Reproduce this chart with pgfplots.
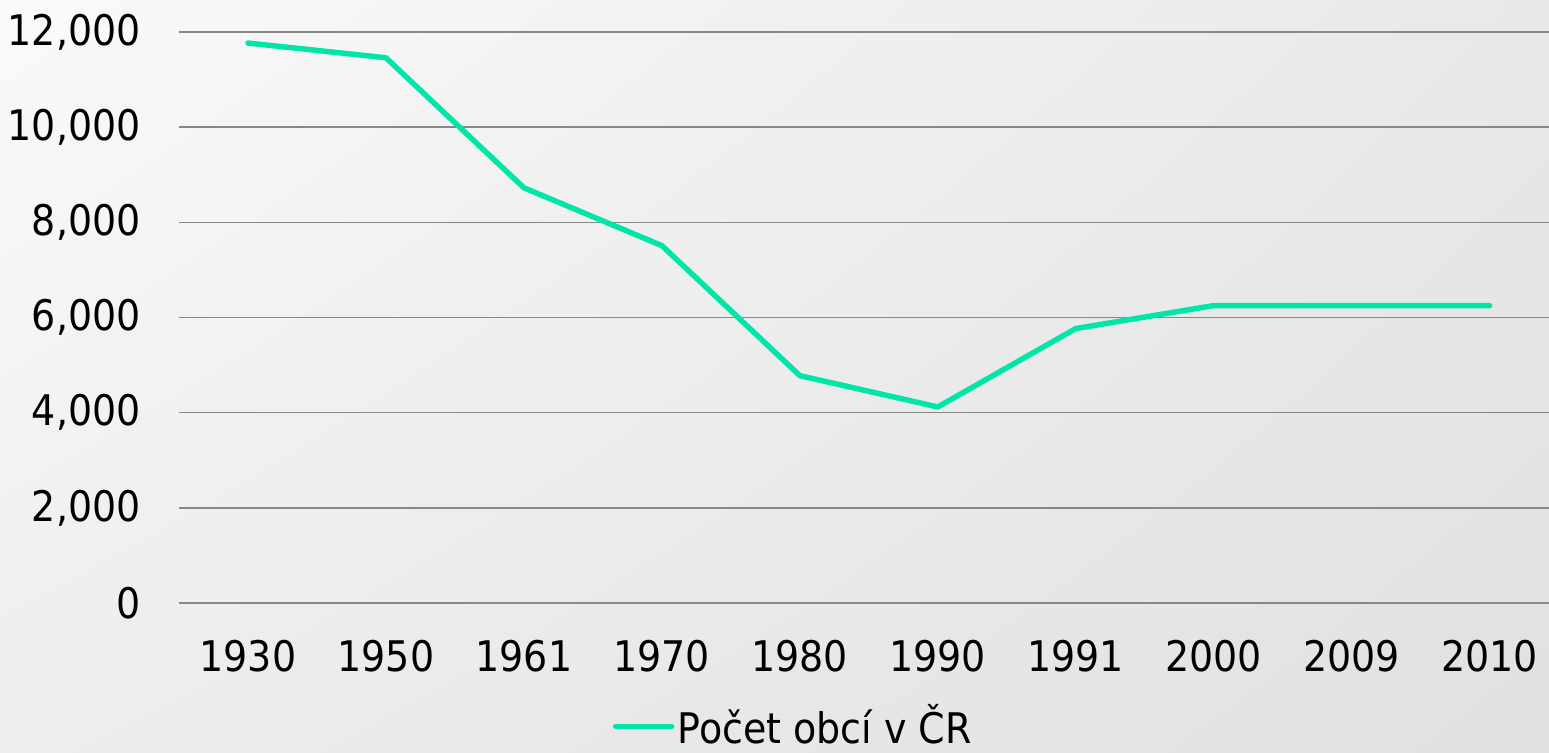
\documentclass[border=0pt]{standalone}
\usepackage{fontspec}
\setmainfont{DejaVu Sans Condensed}
\usepackage{pgfplots}
\pgfplotsset{compat=1.18}
\usetikzlibrary{shadings}
\definecolor{mint}{RGB}{0,229,168}
\definecolor{gridc}{RGB}{136,136,136}
\begin{document}
\begin{tikzpicture}[x=1cm,y=1cm]
\shade[upper left=white!98!black, upper right=white!91!black, lower left=white!93!black, lower right=white!88!black] (0,0) rectangle (15.49,7.52);
\begin{axis}[
  at={(1.79cm,1.49cm)}, anchor=south west,
  scale only axis, width=13.70cm, height=5.71cm,
  xmin=-0.5, xmax=9.43, ymin=0, ymax=12000,
  clip=false,
  axis line style={draw=none},
  major tick length=0pt,
  xtick={0,...,9},
  xticklabels={1930,1950,1961,1970,1980,1990,1991,2000,2009,2010},
  ytick={0,2000,4000,6000,8000,10000,12000},
  ymajorgrids,
  grid style={gridc, line width=0.45pt},
  /pgf/number format/.cd, assume math mode=true, 1000 sep={,}, /pgfplots/.cd,
  scaled y ticks=false,
  tick label style={font=\fontsize{12}{14}\selectfont, text=black},
  yticklabel style={anchor=east, xshift=-0.26cm},
  xticklabel style={anchor=north, yshift=-0.25cm},
  legend style={draw=none, fill=none, at={(0.449,-0.216)}, anchor=center,
    font=\fontsize{12}{14}\selectfont, inner sep=0pt, nodes={inner sep=1pt}},
  legend image code/.code={\draw[#1, line cap=round] (0cm,0cm) -- (0.56cm,0cm);},
]
\addplot[mint, line width=1.55pt, line join=round, line cap=round] coordinates {
 (0,11768) (1,11459) (2,8726) (3,7511) (4,4778) (5,4120) (6,5768) (7,6251) (8,6250) (9,6250)
};
\addlegendentry{Počet obcí v ČR}
\end{axis}
\pgfresetboundingbox
\path[use as bounding box] (0,0) rectangle (15.49,7.52);
\end{tikzpicture}
\end{document}
